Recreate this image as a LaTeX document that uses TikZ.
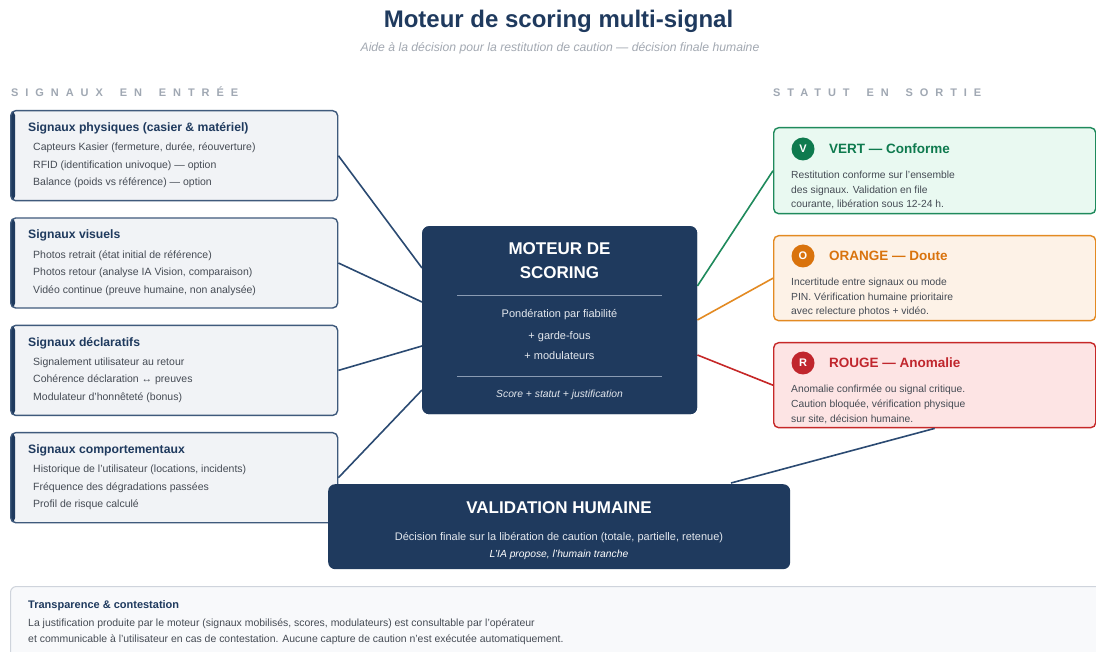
\documentclass[tikz,border=0pt]{standalone}
\usepackage{fontspec}
\setmainfont{Liberation Sans}
\newfontfamily\spacedfont[LetterSpace=63]{Liberation Sans}
\usetikzlibrary{calc}
\definecolor{navy}{HTML}{1F3A5E}
\definecolor{lborder}{HTML}{3F5A7C}
\definecolor{lfill}{HTML}{F1F3F6}
\definecolor{conn}{HTML}{2B4A72}
\definecolor{bodygray}{HTML}{454B54}
\definecolor{labgray}{HTML}{A0A8B3}
\definecolor{subgray}{HTML}{A3A9B2}
\definecolor{gborder}{HTML}{1F8A5C}
\definecolor{gfill}{HTML}{E9F9F1}
\definecolor{gtext}{HTML}{0E7A4E}
\definecolor{oborder}{HTML}{E38A22}
\definecolor{ofill}{HTML}{FDF2E7}
\definecolor{otext}{HTML}{D9730D}
\definecolor{rborder}{HTML}{C62828}
\definecolor{rfill}{HTML}{FDE4E4}
\definecolor{rtext}{HTML}{C0262D}
\definecolor{botfill}{HTML}{F8F9FB}
\definecolor{botborder}{HTML}{CFD4DC}
\definecolor{sepline}{HTML}{8A9BB3}
\definecolor{softwhite}{HTML}{E4E8EE}
\newcommand\fsz[1]{\fontsize{#1}{#1}\selectfont}
\newcommand\wsp{\hspace{0.63em} }
\newcommand\sigbox[6]{%
  \node[lbox] (#1) at (10,#2) {};
  \node[ltitle] (#1t) at (28,#2+21.4) {#3};
  \node[litem] (#1a) at (33,#2+40.8) {#4};
  \node[litem] (#1b) at (33,#2+58.3) {#5};
  \node[litem] (#1c) at (33,#2+75.8) {#6};
}
\begin{document}
\begin{tikzpicture}[x=1pt,y=-1pt,
  lbox/.style={draw=lborder, line width=1.4pt, fill=lfill, rounded corners=5pt,
    minimum width=327pt, minimum height=90pt, anchor=north west, inner sep=0pt,
    path picture={\fill[navy] (path picture bounding box.north west) rectangle ([xshift=4.5pt]path picture bounding box.south west);}},
  ltitle/.style={anchor=base west, inner sep=0pt, text=navy, font=\fsz{12.2}\bfseries},
  litem/.style={anchor=base west, inner sep=0pt, text=bodygray, font=\fsz{10.5}},
  rbox/.style={line width=1.4pt, rounded corners=5pt, minimum width=322pt, anchor=north west, inner sep=0pt},
  rtitle/.style={anchor=base west, inner sep=0pt, font=\fsz{13.5}\bfseries},
  rbody/.style={anchor=base west, inner sep=0pt, text=bodygray, font=\fsz{10.3}},
  badge/.style={circle, minimum size=23pt, inner sep=0pt, text=white, font=\fsz{11}\bfseries},
  darkbox/.style={fill=navy, rounded corners=7pt, anchor=north west, inner sep=0pt},
  wtext/.style={anchor=base, inner sep=0pt, text=softwhite, font=\fsz{11}},
  link/.style={line width=1.6pt},
  section/.style={anchor=base west, inner sep=0pt, text=labgray, font=\fsz{11}\spacedfont\bfseries}
]
\useasboundingbox (0,0) rectangle (1096,652);
\fill[white] (0,0) rectangle (1096,652);

% titles
\node[anchor=base, inner sep=0pt, text=navy, font=\fsz{24}\bfseries] (title) at (558.5,28) {Moteur de scoring multi-signal};
\node[anchor=base, inner sep=0pt, text=subgray, font=\fsz{12.2}\itshape] (subtitle) at (560,52) {Aide à la décision pour la restitution de caution — décision finale humaine};
\node[section] (secin) at (11,97) {SIGNAUX\wsp EN\wsp ENTRÉE};
\node[section] (secout) at (773,97) {STATUT\wsp EN\wsp SORTIE};

% main boxes (defined first for connectors)
\node[darkbox, minimum width=275pt, minimum height=188pt] (eng) at (422,226) {};
\node[rbox, draw=gborder, fill=gfill, minimum height=86pt] (green) at (773,127) {};
\node[rbox, draw=oborder, fill=ofill, minimum height=85pt] (orange) at (773,235) {};
\node[rbox, draw=rborder, fill=rfill, minimum height=85pt] (red) at (773,342) {};

% left signal boxes
\sigbox{b1}{110}{Signaux physiques (casier \& matériel)}{Capteurs Kasier (fermeture, durée, réouverture)}{RFID (identification univoque) — option}{Balance (poids vs référence) — option}
\sigbox{b2}{217.3}{Signaux visuels}{Photos retrait (état initial de référence)}{Photos retour (analyse IA Vision, comparaison)}{Vidéo continue (preuve humaine, non analysée)}
\sigbox{b3}{324.7}{Signaux déclaratifs}{Signalement utilisateur au retour}{Cohérence déclaration ↔ preuves}{Modulateur d'honnêteté (bonus)}
\sigbox{b4}{432}{Signaux comportementaux}{Historique de l'utilisateur (locations, incidents)}{Fréquence des dégradations passées}{Profil de risque calculé}

% connectors
\draw[link, conn] (b1.east) -- ($(eng.north west)+(0,42)$);
\draw[link, conn] (b2.east) -- ($(eng.north west)+(0,76)$);
\draw[link, conn] (b3.east) -- ($(eng.north west)+(0,120)$);
\draw[link, conn] (b4.east) -- ($(eng.north west)+(0,164)$);
\draw[link, gborder] ($(eng.north east)+(0,60)$) -- (green.west);
\draw[link, oborder] ($(eng.north east)+(0,94)$) -- (orange.west);
\draw[link, rborder] ($(eng.north east)+(0,129)$) -- (red.west);

% engine redraw on top
\node[darkbox, minimum width=275pt, minimum height=188pt] (eng2) at (422,226) {};
\node[anchor=base, inner sep=0pt, text=white, font=\fsz{17}\bfseries] (engt1) at (559.5,255) {MOTEUR DE};
\node[anchor=base, inner sep=0pt, text=white, font=\fsz{17}\bfseries] (engt2) at (559.5,279) {SCORING};
\draw[sepline, line width=0.8pt] (457,295) coordinate (s1a) -- (662,295) coordinate (s1b);
\node[wtext] (enga) at (559.5,318) {Pondération par fiabilité};
\node[wtext] (engb) at (559.5,340) {+ garde-fous};
\node[wtext] (engc) at (559.5,360) {+ modulateurs};
\draw[sepline, line width=0.8pt] (457,376) coordinate (s2a) -- (662,376) coordinate (s2b);
\node[wtext, font=\fsz{10.3}\itshape] (engd) at (559.5,398) {Score + statut + justification};

% right status boxes content
\node[badge, fill=gtext] (gb) at (803,149) {V};
\node[rtitle, text=gtext] (gt) at (829,154) {VERT — Conforme};
\node[rbody] (g1) at (791,178.6) {Restitution conforme sur l'ensemble};
\node[rbody] (g2) at (791,193.1) {des signaux. Validation en file};
\node[rbody] (g3) at (791,207.6) {courante, libération sous 12-24 h.};

\node[badge, fill=otext] (ob) at (803,256) {O};
\node[rtitle, text=otext] (ot) at (829,261) {ORANGE — Doute};
\node[rbody] (o1) at (791,285.6) {Incertitude entre signaux ou mode};
\node[rbody] (o2) at (791,300.6) {PIN. Vérification humaine prioritaire};
\node[rbody] (o3) at (791,314.6) {avec relecture photos + vidéo.};

\node[badge, fill=rtext] (rb) at (803,363) {R};
\node[rtitle, text=rtext] (rt) at (829,368) {ROUGE — Anomalie};
\node[rbody] (r1) at (791,392.6) {Anomalie confirmée ou signal critique.};
\node[rbody] (r2) at (791,407.6) {Caution bloquée, vérification physique};
\node[rbody] (r3) at (791,422.6) {sur site, décision humaine.};

% validation
\node[darkbox, minimum width=462pt, minimum height=85pt] (val) at (328,484) {};
\draw[link, conn] (red.south) -- ($(val.north west)+(403,-1)$);
\node[anchor=base, inner sep=0pt, text=white, font=\fsz{17}\bfseries] (valt) at (559,513) {VALIDATION HUMAINE};
\node[wtext] (vala) at (559,540) {Décision finale sur la libération de caution (totale, partielle, retenue)};
\node[wtext, font=\fsz{10.3}\itshape, text=white] (valb) at (559,557) {L'IA propose, l'humain tranche};

% bottom
\node[draw=botborder, fill=botfill, line width=1pt, rounded corners=6pt, anchor=north west, minimum width=1100pt, minimum height=90pt, inner sep=0pt] (bot) at (10,586) {};
\node[anchor=base west, inner sep=0pt, text=navy, font=\fsz{11}\bfseries] (bott) at (28,608) {Transparence \& contestation};
\node[anchor=base west, inner sep=0pt, text=bodygray, font=\fsz{10.45}] (bot1) at (28,626) {La justification produite par le moteur (signaux mobilisés, scores, modulateurs) est consultable par l'opérateur};
\node[anchor=base west, inner sep=0pt, text=bodygray, font=\fsz{10.45}] (bot2) at (28,642) {et communicable à l'utilisateur en cas de contestation. Aucune capture de caution n'est exécutée automatiquement.};
\end{tikzpicture}
\end{document}
